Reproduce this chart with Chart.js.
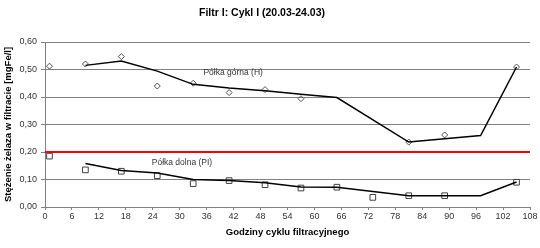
<!DOCTYPE html>
<html>
<head>
<meta charset="utf-8">
<script src="https://cdn.jsdelivr.net/npm/chart.js@4/dist/chart.umd.min.js"></script>
<style>body{margin:0;background:#fff}</style>
</head>
<body>
<canvas id="chart" width="540" height="248"></canvas>
<script>
const chartTitle = 'Filtr I: Cykl I (20.03-24.03)';
const xTitle = 'Godziny cyklu filtracyjnego';
const yTitle = 'Stężenie żelaza w filtracie [mgFe/l]';

// pomiary - półka górna (H)
const upperHours = [1, 9, 17, 25, 33, 41, 49, 57, 81, 89, 105];
const upperValues = [0.512, 0.520, 0.547, 0.440, 0.450, 0.416, 0.427, 0.394, 0.236, 0.262, 0.509];
// linia trendu - półka górna
const upperTrendHours = [9, 17, 25, 33, 41, 49, 57, 65, 81, 97, 105];
const upperTrendValues = [0.515, 0.531, 0.494, 0.446, 0.433, 0.423, 0.410, 0.398, 0.236, 0.260, 0.509];

// pomiary - półka dolna (PI)
const lowerHours = [1, 9, 17, 25, 33, 41, 49, 57, 65, 73, 81, 89, 105];
const lowerValues = [0.185, 0.135, 0.130, 0.114, 0.085, 0.096, 0.081, 0.069, 0.072, 0.035, 0.041, 0.041, 0.090];
// linia trendu - półka dolna
const lowerTrendHours = [9, 17, 25, 33, 41, 49, 57, 65, 81, 97, 105];
const lowerTrendValues = [0.158, 0.133, 0.124, 0.100, 0.096, 0.088, 0.073, 0.072, 0.041, 0.041, 0.091];

// dopuszczalne stężenie
const limitHours = [0, 108];
const limitValues = [0.2, 0.2];

const seriesLabels = [
    {text: 'Półka górna (H)', x: 41.9, y: 0.487},
    {text: 'Półka dolna (PI)', x: 30.5, y: 0.163}
];

const FONT = '"Liberation Sans", Arial, sans-serif';

function toPoints(xs, ys) {
    return xs.map((x, i) => ({x: x, y: ys[i]}));
}

const textPlugin = {
    id: 'texts',
    afterDatasetsDraw(chart) {
        const ctx = chart.ctx;
        const x = chart.scales.x;
        const y = chart.scales.y;
        ctx.save();
        ctx.textAlign = 'center';
        ctx.textBaseline = 'middle';
        ctx.fillStyle = '#000';
        ctx.font = 'bold 10.5px ' + FONT;
        ctx.fillText(chartTitle, 262, 13);
        ctx.font = '8.5px ' + FONT;
        ctx.fillStyle = '#333';
        seriesLabels.forEach(l => {
            ctx.fillText(l.text, x.getPixelForValue(l.x), y.getPixelForValue(l.y));
        });
        ctx.restore();
    }
};

new Chart(document.getElementById('chart').getContext('2d'), {
    type: 'scatter',
    data: {
        datasets: [
            {
                data: toPoints(limitHours, limitValues),
                showLine: true,
                borderColor: '#ff0000',
                borderWidth: 2,
                pointRadius: 0
            },
            {
                data: toPoints(upperTrendHours, upperTrendValues),
                showLine: true,
                borderColor: '#000',
                borderWidth: 1.5,
                pointRadius: 0
            },
            {
                data: toPoints(lowerTrendHours, lowerTrendValues),
                showLine: true,
                borderColor: '#000',
                borderWidth: 1.5,
                pointRadius: 0
            },
            {
                data: toPoints(upperHours, upperValues),
                pointStyle: 'rectRot',
                pointRadius: 3,
                borderColor: '#505050',
                backgroundColor: 'rgba(255,255,255,0)',
                borderWidth: 1
            },
            {
                data: toPoints(lowerHours, lowerValues),
                pointStyle: 'rect',
                pointRadius: 4,
                borderColor: '#404040',
                backgroundColor: 'rgba(255,255,255,0)',
                borderWidth: 1
            }
        ]
    },
    options: {
        responsive: false,
        animation: false,
        layout: {padding: {left: 0, right: 10, top: 42, bottom: 0}},
        plugins: {
            legend: {display: false},
            tooltip: {enabled: false}
        },
        scales: {
            x: {
                type: 'linear',
                min: 0,
                max: 108,
                afterFit: scale => { scale.height = 41; },
                ticks: {
                    stepSize: 6,
                    padding: 1,
                    color: '#333',
                    font: {family: FONT, size: 9}
                },
                grid: {drawOnChartArea: false, drawTicks: true, tickLength: 3, color: '#808080'},
                border: {display: true, color: '#808080'},
                title: {
                    display: true,
                    text: xTitle,
                    color: '#000',
                    font: {family: FONT, size: 9.5, weight: 'bold'},
                    padding: {top: 0, bottom: 10}
                }
            },
            y: {
                min: 0,
                max: 0.6,
                afterFit: scale => { scale.width = 45; },
                ticks: {
                    stepSize: 0.1,
                    padding: 4,
                    color: '#333',
                    font: {family: FONT, size: 9},
                    callback: v => v.toFixed(2).replace('.', ',')
                },
                grid: {color: '#808080', tickLength: 4},
                border: {display: true, color: '#808080'},
                title: {
                    display: true,
                    text: yTitle,
                    color: '#000',
                    font: {family: FONT, size: 9.5, weight: 'bold'},
                    padding: {top: 3, bottom: 0}
                }
            }
        }
    },
    plugins: [textPlugin]
});
</script>
</body>
</html>
